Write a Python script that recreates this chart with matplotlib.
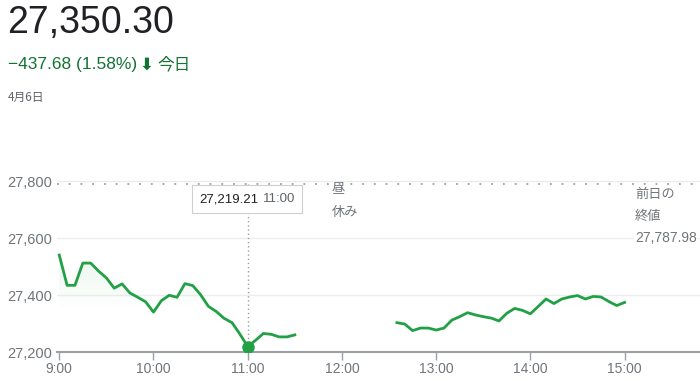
import matplotlib
matplotlib.use("Agg")
import matplotlib.pyplot as plt
import numpy as np

plt.rcParams['font.family'] = ['Liberation Sans', 'Noto Sans CJK JP', 'DejaVu Sans']

# --- data (5-minute steps) ---
am_start = "9:00"
am_values = [27540, 27434, 27434, 27512, 27512, 27484, 27460, 27424, 27439, 27407,
             27392, 27376, 27340, 27380, 27399, 27392, 27440, 27433, 27401, 27360,
             27342, 27318, 27303, 27263, 27219.21, 27241, 27265, 27262, 27253, 27253,
             27260]
pm_start = "12:35"
pm_values = [27303, 27298, 27275, 27284, 27284, 27277, 27284, 27312, 27324, 27338,
             27330, 27324, 27319, 27309, 27336, 27353, 27346, 27334, 27360, 27386,
             27370, 27386, 27393, 27398, 27386, 27395, 27393, 27377, 27363, 27374]
prev_close = 27787.98
last_price = "27,350.30"
change_text = "−437.68 (1.58%)"
date_text = "4月6日"
hover_time = "11:00"
hover_value = 27219.21

x_ticks = ["9:00", "10:00", "11:00", "12:00", "13:00", "14:00", "15:00"]
y_ticks = [27200, 27400, 27600, 27800]

GREEN = '#22a046'
GRAY = '#70757a'
LINE_GRAY = '#9aa0a6'


def to_hours(s):
    h, m = s.split(":")
    return int(h) + int(m) / 60


def times_from(start, n):
    t0 = to_hours(start)
    return t0 + np.arange(n) * 5 / 60


am_x = times_from(am_start, len(am_values))
pm_x = times_from(pm_start, len(pm_values))

W, H = 700, 381
fig = plt.figure(figsize=(W / 100, H / 100), dpi=100)


def fx(px):
    return px / W


def fy(py):
    return 1 - py / H


# axes: baseline at y=352 px, 57 px per 200 points, left edge at x=57 px
y_bottom, y_top = 27200, 27830
x_left, x_right = 8.976, 15.80
ax_h = (y_top - y_bottom) * 57 / 200
ax = fig.add_axes([fx(57), fy(352), fx(643), ax_h / H])

for v in y_ticks[1:]:
    ax.axhline(v, color='#ededed', lw=1, zorder=0)

ax.axhline(prev_close, color=LINE_GRAY, lw=1.3, ls=(0, (1, 5.5)), zorder=1)

# faint gradient under the line
alpha = np.clip((np.linspace(27560, 27200, 200) - 27340) / 220, 0, 1).reshape(-1, 1) * 0.1
rgba = np.zeros((200, 1, 4))
rgba[..., 0] = 0.13
rgba[..., 1] = 0.63
rgba[..., 2] = 0.27
rgba[..., 3] = alpha
for xs, vs in ((am_x, am_values), (pm_x, pm_values)):
    poly = ax.fill_between(xs, vs, y_bottom, color='none', lw=0)
    img = ax.imshow(rgba, extent=[xs[0], xs[-1], 27200, 27560], aspect='auto',
                    origin='upper', zorder=1)
    img.set_clip_path(poly.get_paths()[0], transform=ax.transData)

ax.plot(am_x, am_values, color=GREEN, lw=2, zorder=3, solid_joinstyle='round')
ax.plot(pm_x, pm_values, color=GREEN, lw=2, zorder=3, solid_joinstyle='round')

hx = to_hours(hover_time)
ax.plot([hx, hx], [hover_value, prev_close], color=LINE_GRAY, lw=1,
        ls=(0, (1, 2)), zorder=2)
ax.plot([hx], [hover_value], 'o', color=GREEN, ms=8, zorder=4)

for s in ('top', 'right', 'left'):
    ax.spines[s].set_visible(False)
ax.spines['bottom'].set_color(LINE_GRAY)
ax.spines['bottom'].set_linewidth(1.5)

ax.set_xticks([to_hours(t) for t in x_ticks])
ax.set_xticklabels(x_ticks)
ax.set_yticks(y_ticks)
ax.set_yticklabels([f"{v:,}" for v in y_ticks])
ax.tick_params(axis='x', length=6, width=1, color=LINE_GRAY, colors=GRAY,
               labelsize=10, pad=1.5)
ax.tick_params(axis='y', length=0, colors=GRAY, labelsize=10.5, pad=3.5)
ax.set_xlim(x_left, x_right)
ax.set_ylim(y_bottom, y_top)
ax.set_facecolor('none')

# header texts
fig.text(fx(7), fy(23), last_price, fontsize=27, color='#202124', va='center')
fig.text(fx(8), fy(65), change_text, fontsize=12.5, color='#137333', va='center')
fig.text(fx(139), fy(65), "⬇", fontsize=12, color='#137333', va='center',
         fontweight='bold', family=['DejaVu Sans'])
fig.text(fx(157), fy(65), "今日", fontsize=12, color='#137333', va='center',
         family=['Noto Sans CJK JP'])
fig.text(fx(8), fy(97), date_text, fontsize=8.5, color='#5f6368', va='center',
         family=['Noto Sans CJK JP'])

# lunch break + previous close labels
fig.text(fx(332), fy(189), "昼", fontsize=9.5, color=GRAY, va='center',
         family=['Noto Sans CJK JP'])
fig.text(fx(332), fy(212), "休み", fontsize=9.5, color=GRAY, va='center',
         family=['Noto Sans CJK JP'])
fig.text(fx(635), fy(194), "前日の", fontsize=9.5, color=GRAY, va='center',
         family=['Noto Sans CJK JP'])
fig.text(fx(635), fy(216), "終値", fontsize=9.5, color=GRAY, va='center',
         family=['Noto Sans CJK JP'])
fig.text(fx(635), fy(238), f"{prev_close:,.2f}", fontsize=10, color=GRAY, va='center',
         bbox=dict(boxstyle='square,pad=0.1', fc='white', ec='none'))

# tooltip
tip = fig.add_axes([fx(192), fy(213), fx(110), (213 - 185) / H])
tip.set_xticks([])
tip.set_yticks([])
for s in tip.spines.values():
    s.set_color('#d0d0d0')
    s.set_linewidth(0.8)
tip.set_facecolor('white')
tip.text(0.07, 0.5, f"{hover_value:,.2f}", fontsize=9.5, color='#202124',
         va='center', transform=tip.transAxes)
tip.text(0.645, 0.5, hover_time, fontsize=9.5, color='#5f6368',
         va='center', transform=tip.transAxes)

fig.savefig("out.png", dpi=100, facecolor='white')
